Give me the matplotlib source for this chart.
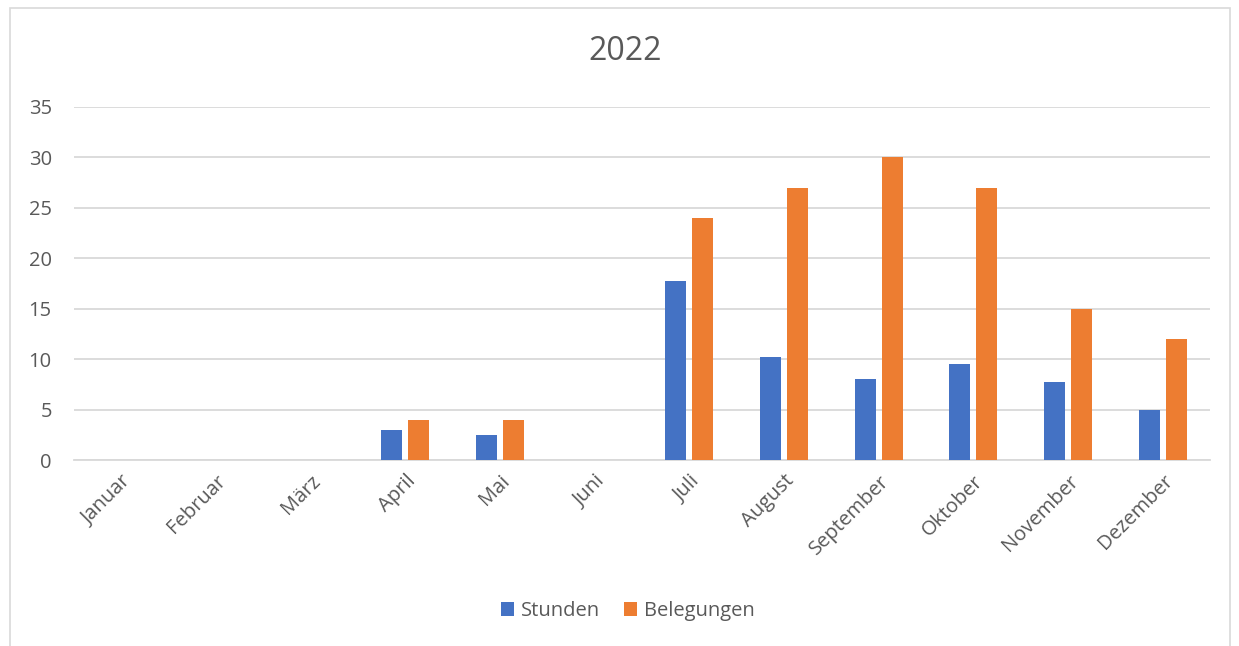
import matplotlib
matplotlib.use("Agg")
import matplotlib.pyplot as plt
from matplotlib.patches import Rectangle
import numpy as np

plt.rcParams['font.family'] = ['Open Sans', 'DejaVu Sans']

months = ["Januar", "Februar", "März", "April", "Mai", "Juni", "Juli",
          "August", "September", "Oktober", "November", "Dezember"]
stunden = [0, 0, 0, 3, 2.5, 0, 17.75, 10.2, 8, 9.5, 7.75, 5]
belegungen = [0, 0, 0, 4, 4, 0, 24, 27, 30, 27, 15, 12]
yticks = [0, 5, 10, 15, 20, 25, 30, 35]

W, H = 1239, 646
fig = plt.figure(figsize=(W / 100, H / 100), dpi=100)
ax = fig.add_axes([74 / W, 1 - 460 / H, (1210 - 74) / W, (460 - 107) / H])

x = np.arange(len(months))
bw = 0.22
off = 0.143
ax.bar(x - off, stunden, bw, color="#4472c4", label="Stunden", zorder=3)
ax.bar(x + off, belegungen, bw, color="#ed7d31", label="Belegungen", zorder=3)

ax.set_xlim(-0.5, len(months) - 0.5)
ax.set_ylim(0, 35)
ax.set_yticks(yticks)
ax.yaxis.grid(True, color="#d9d9d9", linewidth=1.3, zorder=0)
for s in ["top", "right", "left"]:
    ax.spines[s].set_visible(False)
ax.spines["bottom"].set_color("#d9d9d9")
ax.spines["bottom"].set_linewidth(1.3)
ax.tick_params(axis="both", length=0, colors="#595959", labelsize=14.5)
ax.tick_params(axis="y", pad=16)
ax.set_xticks(x)
ax.set_xticklabels(months, rotation=45, ha="right", rotation_mode="anchor")
ax.tick_params(axis="x", pad=8)

fig.text(625 / W, 1 - 52 / H, "2022", ha="center", va="center",
         fontsize=23, color="#595959")

leg = fig.legend(loc="center", bbox_to_anchor=(628 / W, 1 - 611 / H), ncol=2,
                 frameon=False, fontsize=14.5, handlelength=0.65, handleheight=0.65,
                 columnspacing=1.2, handletextpad=0.35)
for t in leg.get_texts():
    t.set_color("#595959")

fig.patches.append(Rectangle((10 / W, -0.05), (1230 - 10) / W, 1 - 8 / H + 0.05,
                             transform=fig.transFigure, fill=False,
                             edgecolor="#d9d9d9", linewidth=1.2))

fig.savefig("out.png", dpi=100)
